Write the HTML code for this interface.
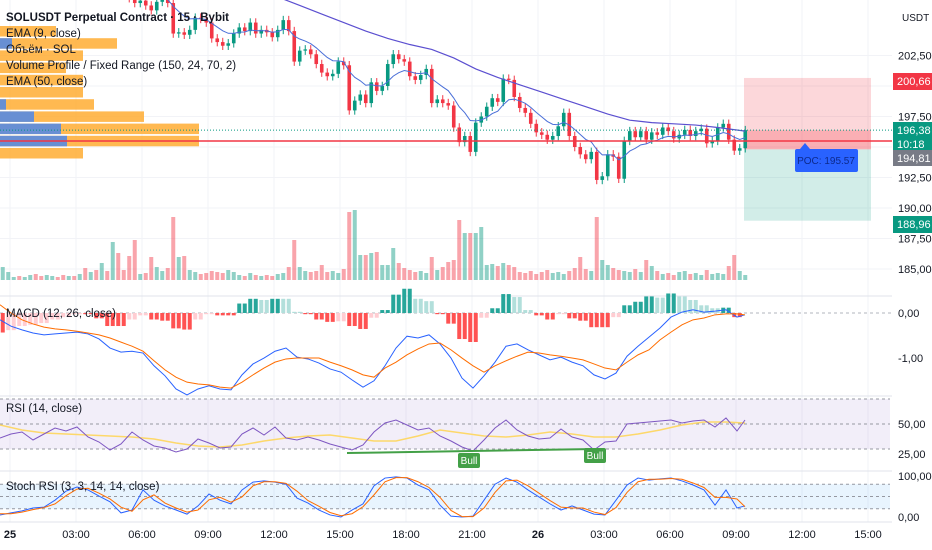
<!DOCTYPE html>
<html><head><meta charset="utf-8"><style>
html,body{margin:0;padding:0;background:#fff;width:932px;height:550px;overflow:hidden}
svg text{font-family:"Liberation Sans","Noto Sans CJK JP",sans-serif}
</style></head><body>
<svg id="c" width="932" height="550" xmlns="http://www.w3.org/2000/svg"></svg>
<script>
const closes=[209.5,209.8,210.2,209.6,209.9,210.4,210.0,209.3,209.7,210.1,209.5,209.0,209.4,208.8,209.2,208.6,208.9,208.3,208.7,208.1,208.5,207.9,207.6,207.2,206.8,207.0,206.6,206.2,206.9,207.2,206.8,204.3,204.4,204.2,204.6,205.6,205.5,205.2,203.9,203.6,203.3,203.5,204.3,204.8,204.5,205.2,204.3,204.6,204.4,204.0,204.6,205.4,204.5,202.0,202.9,203.0,202.6,201.8,201.1,200.8,201.0,202.0,201.7,198.0,198.8,199.3,198.6,200.3,199.6,200.0,201.8,202.6,202.2,202.0,200.8,200.5,200.9,201.4,198.6,198.9,198.6,198.4,196.6,195.4,195.9,194.6,197.0,197.5,198.3,199.0,198.7,200.6,200.5,199.1,198.2,197.8,196.9,196.2,196.0,195.6,195.9,196.7,197.8,195.9,195.0,194.4,194.0,194.6,192.3,192.6,194.4,194.2,192.4,195.5,196.3,195.8,196.3,195.6,196.2,196.0,196.6,196.3,195.7,196.0,196.4,195.9,196.3,196.5,195.3,195.5,196.6,196.9,195.6,194.7,194.9,196.38];
const volumes=[13,8,3,4,3,5,6,4,5,4,3,5,4,4,6,12,8,10,17,9,38,27,10,24,40,6,7,23,13,9,12,63,23,24,10,8,6,7,9,8,7,10,8,5,4,7,5,4,5,4,6,7,13,40,13,9,8,9,15,8,9,7,11,68,70,25,25,27,28,15,15,32,17,12,10,8,9,7,23,10,13,18,20,60,47,47,47,53,15,16,14,17,15,13,8,7,9,6,8,10,7,8,6,9,12,23,11,9,63,20,15,12,10,9,8,11,8,20,14,9,6,7,5,8,9,6,7,5,10,6,7,6,14,25,9,5];
const ema50Idx=[46,50,54,58,62,66,70,74,78,82,86,90,94,98,102,106,110,114,118,122,126,130,135];
const ema50Val=[208.0,207.3,206.6,205.9,205.2,204.5,203.9,203.4,203.0,202.3,201.4,200.7,200.1,199.5,198.9,198.3,197.7,197.2,197.0,196.9,196.8,196.6,196.3];
const priceTicks=[202.5,197.5,192.5,190,187.5,185];
const macdLine=[-0.15,-0.29,-0.37,-0.44,-0.48,-0.46,-0.44,-0.42,-0.46,-0.57,-0.77,-0.86,-0.84,-0.88,-1.16,-1.38,-1.67,-1.80,-1.67,-1.60,-1.67,-1.69,-1.36,-1.12,-0.99,-0.84,-0.77,-0.97,-1.01,-1.10,-1.23,-1.30,-1.47,-1.63,-1.49,-1.16,-0.77,-0.51,-0.55,-0.48,-0.68,-0.99,-1.43,-1.65,-1.38,-1.08,-0.73,-0.68,-0.81,-0.92,-1.03,-0.97,-1.08,-1.16,-1.36,-1.45,-1.32,-0.95,-0.73,-0.53,-0.33,-0.09,0.02,0.07,0.02,0.04,0.07,-0.09,-0.04];
const signalLine=[0.18,0,-0.15,-0.24,-0.31,-0.35,-0.37,-0.40,-0.44,-0.48,-0.55,-0.64,-0.73,-0.84,-1.05,-1.25,-1.41,-1.52,-1.56,-1.58,-1.63,-1.65,-1.52,-1.36,-1.21,-1.08,-1.01,-0.99,-0.99,-0.99,-1.08,-1.16,-1.25,-1.36,-1.41,-1.21,-1.08,-0.92,-0.79,-0.68,-0.66,-0.81,-0.99,-1.16,-1.30,-1.16,-1.05,-0.95,-0.86,-0.88,-0.92,-0.95,-0.99,-1.03,-1.12,-1.21,-1.25,-1.08,-0.92,-0.81,-0.59,-0.42,-0.26,-0.15,-0.11,-0.04,-0.02,-0.02,-0.04];
const rsiVals=[38.8,42,43.6,37.2,42,46.8,44.4,47.6,39.6,35.6,29.2,34,43.6,37.2,32.4,30.8,27.6,30,38,34.8,30.8,31.6,42,46.8,41.2,47.6,38.8,37.2,39.6,37.2,34,31.6,29.2,33.2,43.6,50.8,53.2,49.2,45.2,46.8,40.4,36.4,31.6,28.4,37.2,46.8,53.2,45.2,40.4,38,38.8,46,39.6,37.2,29.2,35.6,36.4,50,50.8,51.6,52.4,53.2,50.8,52.4,53.2,47.6,54.8,44.4,53.2];
const rsiMa=[49.2,45.2,42.8,42,41.2,40.4,39.6,38,34.8,32.4,31.6,33.2,36.4,38.8,40.4,41.2,38.8,36.4,36.4,40.4,45.2,42.8,40.4,39.6,41.2,43.6,42,39.6,39.6,42,45.2,49.2,51.6,51.6,50.8];
const stochK=[5,10,15,22,24,41,63,73,66,51,37,10,17,66,41,27,17,7,27,56,41,32,66,85,88,85,80,46,34,17,5,0,17,32,76,95,98,95,78,66,29,2,0,2,41,80,95,85,66,49,32,17,27,17,7,5,41,78,95,90,93,95,88,78,66,29,66,22,27];
const stochD=[8,8,12,18,23,32,52,68,70,58,44,24,14,42,54,34,22,12,17,42,48,36,49,76,86,86,82,63,40,26,11,3,8,25,54,86,96,96,86,72,48,16,1,1,22,60,88,90,76,58,40,24,22,22,12,6,23,60,86,92,92,94,92,83,72,48,48,44,25];
const timeLabels=["25","03:00","06:00","09:00","12:00","15:00","18:00","21:00","26","03:00","06:00","09:00","12:00","15:00"];
const vpOrange=[56,117,83,66,83,83,94,144,199,199,83];
const vpBlue=[0,12,0,0,0,0,6,34,61,67,0];

const NS="http://www.w3.org/2000/svg";
const svg=document.getElementById('c');
function el(t,a,p){const e=document.createElementNS(NS,t);for(const k in a)e.setAttribute(k,a[k]);(p||svg).appendChild(e);return e;}
function txt(x,y,s,a,p){const e=el('text',Object.assign({x:x,y:y,'font-size':11,fill:'#131722'},a||{}),p);e.textContent=s;return e;}
const W=892;
const bx=i=>i*5.5+2.75;
const py=p=>147-(p-195)*12.2;
const sx=i=>Math.min(i*11,745);
const macdY=v=>313-v*45.5;
const rsiY=v=>424-(v-50)*1.25;
const stY=v=>517-v*0.41;

const grid=el('g',{});


timeLabels.forEach((t,k)=>{const x=10+k*66;el('line',{x1:x,y1:0,x2:x,y2:522,stroke:'#f2f3f7'},grid);});
priceTicks.concat([200,195]).forEach(p=>el('line',{x1:0,y1:py(p),x2:W,y2:py(p),stroke:'#f2f3f7'},grid));
[296,396,471,522].forEach(y=>el('line',{x1:0,y1:y,x2:932,y2:y,stroke:'#e0e3eb'},grid));

const box=el('g',{});


el('rect',{x:744,y:py(200.66),width:127,height:py(194.81)-py(200.66),fill:'rgba(242,54,69,0.2)'},box);
el('rect',{x:744,y:py(196.38),width:127,height:py(194.81)-py(196.38),fill:'rgba(242,54,69,0.25)'},box);
el('rect',{x:744,y:py(194.81),width:127,height:py(188.96)-py(194.81),fill:'rgba(8,153,129,0.18)'},box);

const vp=el('g',{});


vpOrange.forEach((w,k)=>{const y=26+k*12.2;el('rect',{x:0,y:y,width:w,height:10.5,fill:'rgba(255,167,38,0.8)'},vp);if(vpBlue[k])el('rect',{x:0,y:y,width:vpBlue[k],height:10.5,fill:'rgba(66,133,244,0.8)'},vp);});

const vg=el('g',{});


volumes.forEach((v,i)=>{const o=i?closes[i-1]:closes[0];const up=closes[i]>=o;const b=el('rect',{x:bx(i)-2,y:280-v,width:4,height:v,fill:up?'rgba(8,153,129,0.45)':'rgba(242,54,69,0.45)'},vg);});

const cg=el('g',{});


closes.forEach((c,i)=>{const o=i?closes[i-1]:c+0.3;const up=c>=o;const col=up?'#089981':'#f23645';const hi=Math.max(o,c)+0.35,lo=Math.min(o,c)-0.35;
el('line',{x1:bx(i),x2:bx(i),y1:py(hi),y2:py(lo),stroke:col,'stroke-width':1},cg);
const r=el('rect',{x:bx(i)-1.8,y:py(Math.max(o,c)),width:3.6,height:Math.max(1,Math.abs(py(o)-py(c))),fill:col},cg);
});

let e9=[],k9=2/10;closes.forEach((c,i)=>e9.push(i?c*k9+e9[i-1]*(1-k9):c));
const ema9=el('polyline',{points:e9.map((v,i)=>bx(i)+','+py(v)).join(' '),fill:'none',stroke:'#4a6fd8','stroke-width':1});

const ema50=el('polyline',{points:ema50Idx.map((d,k)=>bx(d)+','+py(ema50Val[k])).join(' '),fill:'none',stroke:'#5b4fd0','stroke-width':1.2});


const poc=el('line',{x1:0,x2:W,y1:141,y2:141,stroke:'#f23645','stroke-width':1.5});

const pl=el('line',{x1:0,x2:W,y1:py(196.38),y2:py(196.38),stroke:'#089981','stroke-dasharray':'1 2'});

const tip=el('g',{});


el('rect',{x:795,y:149,width:63,height:23,rx:2,fill:'#2962ff'},tip);
el('path',{d:'M800,149 L805,143 L810,149 Z',fill:'#2962ff'},tip);
txt(826,164,'POC: 195.57',{'text-anchor':'middle','font-size':10,fill:'#0d2a8c'},tip);

const lg=el('g',{});


const t0=txt(6,21,'SOLUSDT Perpetual Contract · 15 · Bybit',{'font-size':11.5,'font-weight':'bold'},lg);

['EMA (9, close)','Объём · SOL','Volume Profile / Fixed Range (150, 24, 70, 2)','EMA (50, close)'].forEach((s,k)=>{const t=txt(6,37+k*16,s,{'font-size':11.5},lg);});

const mg=el('g',{});


el('line',{x1:0,x2:W,y1:313,y2:313,stroke:'#b2b5be','stroke-dasharray':'3 3'},mg);
macdLine.forEach((m,i)=>{const h=(m-signalLine[i])*1.3;const prev=i?(macdLine[i-1]-signalLine[i-1])*1.3:h;
let col=h>=0?(h>=prev?'#26a69a':'#b2dfdb'):(h<=prev?'#ff5252':'#ffcdd2');
const y0=macdY(0),y1=macdY(h);
[-2.75,2.75].forEach(dx=>{const r=el('rect',{x:sx(i)+dx-2,y:Math.min(y0,y1),width:4,height:Math.abs(y1-y0),fill:col},mg);
});});
const ml=el('polyline',{points:macdLine.map((v,i)=>sx(i)+','+macdY(v)).join(' '),fill:'none',stroke:'#2962ff','stroke-width':1},mg);

const sl=el('polyline',{points:signalLine.map((v,i)=>sx(i)+','+macdY(v)).join(' '),fill:'none',stroke:'#ff6d00','stroke-width':1},mg);

txt(6,317,'MACD (12, 26, close)',{'font-size':11.5},mg);

const rg=el('g',{});


el('rect',{x:0,y:rsiY(70),width:W-2,height:rsiY(30)-rsiY(70),fill:'rgba(126,87,194,0.1)'},rg);
[70,50,30].forEach(v=>el('line',{x1:0,x2:W-2,y1:rsiY(v),y2:rsiY(v),stroke:'#9598a1','stroke-dasharray':'3 3'},rg));
const rma=el('polyline',{points:rsiMa.map((v,i)=>Math.min(i*22,745)+','+rsiY(v)).join(' '),fill:'none',stroke:'#fdd86a','stroke-width':1.5},rg);

const rl=el('polyline',{points:rsiVals.map((v,i)=>sx(i)+','+rsiY(v)).join(' '),fill:'none',stroke:'#7e57c2','stroke-width':1},rg);

el('line',{x1:347,y1:453,x2:596,y2:449,stroke:'#43a047','stroke-width':2},rg);
[[469,'bull-label-1'],[595,'bull-label-2']].forEach(([x,n],k)=>{const g=el('g',{},rg);
el('rect',{x:x-11,y:k?448:453,width:22,height:15,rx:2,fill:'#43a047'},g);txt(x,k?459:464,'Bull',{'text-anchor':'middle','font-size':10,fill:'#fff'},g);});
txt(6,412,'RSI (14, close)',{'font-size':11.5},rg);

const st=el('g',{});


el('rect',{x:0,y:stY(80),width:W-2,height:stY(20)-stY(80),fill:'rgba(33,150,243,0.1)'},st);
[80,50,20].forEach(v=>el('line',{x1:0,x2:W-2,y1:stY(v),y2:stY(v),stroke:'#9598a1','stroke-dasharray':'3 3'},st));
const kl=el('polyline',{points:stochK.map((v,i)=>sx(i)+','+stY(v)).join(' '),fill:'none',stroke:'#2962ff','stroke-width':1},st);

const dl=el('polyline',{points:stochD.map((v,i)=>sx(i)+','+stY(v)).join(' '),fill:'none',stroke:'#ff6d00','stroke-width':1},st);

txt(6,490,'Stoch RSI (3, 3, 14, 14, close)',{'font-size':11.5},st);

const ax=el('g',{});


el('rect',{x:892,y:0,width:40,height:550,fill:'#fff'},ax);
txt(902,21,'USDT',{'font-size':10},ax);
priceTicks.forEach(p=>txt(898,py(p)+4,p.toFixed(2).replace('.',','),{},ax));
function lbl(y,h,bg,lines,n){const g=el('g',{},ax);el('rect',{x:893,y:y,width:39,height:h,fill:bg},g);lines.forEach((s,k)=>txt(897,y+12+k*14,s,{fill:'#fff'},g));}
lbl(73,17,'#f23645',['200,66'],'take-profit-label');
lbl(122,28,'#089981',['196,38','10:18'],'last-price-label');
lbl(150,16,'#787b86',['194,81'],'entry-label');
lbl(216,17,'#089981',['188,96'],'stop-label');
[['0,00',317],['-1,00',362],['50,00',428],['25,00',458],['100,00',480],['0,00',521]].forEach(([s,y])=>txt(898,y,s,{},ax));

const ta=el('g',{});


timeLabels.forEach((t,k)=>{const bold=t.length<3;txt(10+k*66,538,t,{'text-anchor':'middle','font-weight':bold?'bold':'normal'},ta);});
</script>
</body></html>
